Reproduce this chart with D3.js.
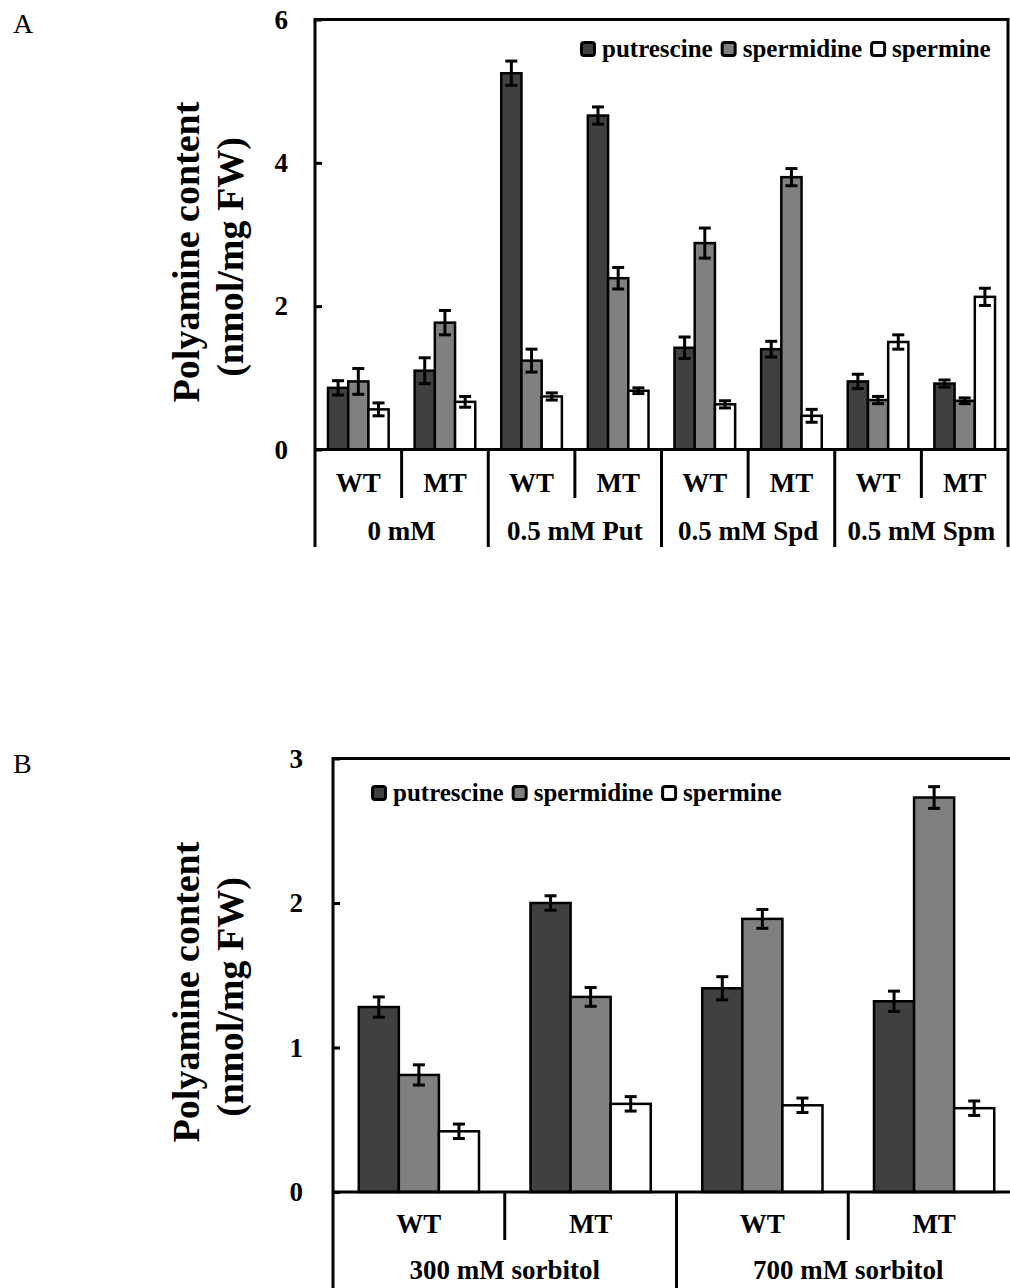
<!DOCTYPE html>
<html>
<head>
<meta charset="utf-8">
<script src="https://cdn.jsdelivr.net/npm/d3@7"></script>
<style>
  html, body { margin: 0; padding: 0; background: #fff; }
  svg { display: block; }
</style>
</head>
<body>
<script>
// Polyamine content (nmol/mg FW) of WT and MT lines, two experiments.
const series = ["putrescine", "spermidine", "spermine"];
const genotypes = ["WT", "MT"];

// Panel A: exogenous polyamine treatments
const groupsA = ["0 mM", "0.5 mM Put", "0.5 mM Spd", "0.5 mM Spm"];
const putA    = [0.86, 1.10, 5.25, 4.66, 1.42, 1.40, 0.95, 0.92];
const spdA    = [0.95, 1.77, 1.24, 2.39, 2.88, 3.80, 0.69, 0.68];
const spmA    = [0.56, 0.665, 0.74, 0.82, 0.63, 0.47, 1.50, 2.13];
const putErrA = [0.10, 0.18, 0.17, 0.12, 0.15, 0.11, 0.10, 0.05];
const spdErrA = [0.18, 0.17, 0.16, 0.15, 0.21, 0.12, 0.05, 0.04];
const spmErrA = [0.09, 0.075, 0.05, 0.04, 0.05, 0.09, 0.10, 0.12];
const ticksA  = [0, 2, 4, 6];

// Panel B: osmotic stress (sorbitol)
const groupsB = ["300 mM sorbitol", "700 mM sorbitol"];
const putB    = [1.28, 2.00, 1.41, 1.32];
const spdB    = [0.81, 1.35, 1.89, 2.73];
const spmB    = [0.42, 0.61, 0.60, 0.58];
const putErrB = [0.07, 0.05, 0.08, 0.07];
const spdErrB = [0.07, 0.065, 0.065, 0.075];
const spmErrB = [0.05, 0.05, 0.05, 0.05];
const ticksB  = [0, 1, 2, 3];

const FONT = "'Liberation Serif','Times New Roman',Times,serif";
const fills = d3.scaleOrdinal().domain(series).range(["#404040", "#808080", "#ffffff"]);

const svg = d3.select("body").append("svg")
  .attr("width", 1010).attr("height", 1288)
  .attr("font-family", FONT);
svg.append("rect").attr("width", 1010).attr("height", 1288).attr("fill", "#fff");

function panel(o) {
  const g = svg.append("g");
  const subcats = o.groups.flatMap(gr => genotypes.map(gt => gr + "|" + gt));
  const x = d3.scaleBand().domain(subcats).range([o.left, o.right])
    .paddingInner(0.3).paddingOuter(0.15);
  const xs = d3.scaleBand().domain(series).range([0, x.bandwidth()]);
  const y = d3.scaleLinear().domain([0, o.max]).range([o.zero, o.top]);
  const half = (x.step() - x.bandwidth()) / 2;
  const cellLeft = k => x(k) - half;

  const rows = subcats.map((k, i) => ({
    key: k,
    vals: series.map((s, j) => ({ s, v: o.values[j][i], e: o.errors[j][i] }))
  }));

  // panel letter
  g.append("text").attr("x", 13).attr("y", o.letterY)
    .attr("font-size", 28).text(o.letter);

  // axis title
  const title = g.append("text")
    .attr("transform", `translate(0,${o.titleY}) rotate(-90)`)
    .attr("text-anchor", "middle").attr("font-weight", "bold").attr("font-size", 38);
  title.append("tspan").attr("x", 0).attr("y", 199).text("Polyamine content");
  title.append("tspan").attr("x", -5).attr("y", 243).text("(nmol/mg FW)");

  // bars
  const cluster = g.selectAll("g.cluster").data(rows).join("g")
    .attr("class", "cluster")
    .attr("transform", d => `translate(${x(d.key)},0)`);
  cluster.selectAll("rect").data(d => d.vals).join("rect")
    .attr("x", d => xs(d.s)).attr("width", xs.bandwidth())
    .attr("y", d => y(d.v)).attr("height", d => y(0) - y(d.v))
    .attr("fill", d => fills(d.s))
    .attr("stroke", "#000").attr("stroke-width", 2.5);

  // error bars
  const eb = cluster.selectAll("g.err").data(d => d.vals).join("g").attr("class", "err")
    .attr("transform", d => `translate(${xs(d.s) + xs.bandwidth() / 2},0)`)
    .attr("stroke", "#000").attr("stroke-width", 3);
  eb.append("line").attr("y1", d => y(d.v + d.e)).attr("y2", d => y(d.v - d.e));
  eb.append("line").attr("x1", -6).attr("x2", 6)
    .attr("y1", d => y(d.v + d.e)).attr("y2", d => y(d.v + d.e));
  eb.append("line").attr("x1", -6).attr("x2", 6)
    .attr("y1", d => y(d.v - d.e)).attr("y2", d => y(d.v - d.e));

  // frame and baseline
  const frame = g.append("g").attr("stroke", "#000").attr("stroke-width", 3).attr("fill", "none");
  frame.append("line").attr("x1", o.left).attr("x2", o.right).attr("y1", o.top).attr("y2", o.top);
  frame.append("line").attr("x1", o.left).attr("x2", o.left).attr("y1", o.top - 1.5).attr("y2", o.groupBottom);
  frame.append("line").attr("x1", o.right).attr("x2", o.right).attr("y1", o.top - 1.5).attr("y2", o.groupBottom);
  frame.append("line").attr("x1", o.left).attr("x2", o.right).attr("y1", o.zero).attr("y2", o.zero);

  // category separators
  subcats.forEach((k, i) => {
    if (i === 0) return;
    const isGroup = i % 2 === 0;
    frame.append("line")
      .attr("x1", cellLeft(k)).attr("x2", cellLeft(k))
      .attr("y1", o.zero).attr("y2", isGroup ? o.groupBottom : o.subBottom);
  });

  // genotype labels
  g.selectAll("text.sub").data(subcats).join("text").attr("class", "sub")
    .attr("x", k => cellLeft(k) + x.step() / 2).attr("y", o.subY)
    .attr("text-anchor", "middle").attr("font-weight", "bold").attr("font-size", 27)
    .text(k => k.split("|")[1]);

  // treatment labels
  g.selectAll("text.grp").data(o.groups).join("text").attr("class", "grp")
    .attr("x", gr => cellLeft(gr + "|WT") + x.step())
    .attr("y", o.groupY)
    .attr("text-anchor", "middle").attr("font-weight", "bold").attr("font-size", 27)
    .text(gr => gr);

  // y axis
  const ax = g.append("g").attr("transform", `translate(${o.left},0)`)
    .call(d3.axisLeft(y).tickValues(o.ticks).tickFormat(d3.format("d"))
      .tickSizeInner(-7).tickSizeOuter(0).tickPadding(o.tickPad));
  ax.select(".domain").remove();
  ax.selectAll(".tick line").attr("stroke", "#000").attr("stroke-width", 3);
  ax.selectAll(".tick text").attr("font-family", FONT).attr("font-weight", "bold")
    .attr("font-size", 27).attr("fill", "#000");

  // legend
  const leg = g.append("g").attr("transform", `translate(${o.legX},${o.legY})`);
  let cx = 0;
  series.forEach(s => {
    leg.append("rect").attr("x", cx + 1.5).attr("y", -6.5).attr("width", 13).attr("height", 13)
      .attr("rx", 2.5).attr("fill", fills(s)).attr("stroke", "#000").attr("stroke-width", 3);
    const t = leg.append("text").attr("x", cx + 22).attr("y", 8)
      .attr("font-weight", "bold").attr("font-size", 25).text(s);
    cx += 22 + t.node().getComputedTextLength() + 8;
  });
}

panel({
  letter: "A", letterY: 33, titleY: 252,
  groups: groupsA, values: [putA, spdA, spmA], errors: [putErrA, spdErrA, spmErrA],
  ticks: ticksA, max: 6, left: 315, right: 1008, top: 19.5, zero: 449.5,
  subBottom: 498, groupBottom: 547, subY: 492, groupY: 540, tickPad: 27,
  legX: 580, legY: 49
});

panel({
  letter: "B", letterY: 773, titleY: 992,
  groups: groupsB, values: [putB, spdB, spmB], errors: [putErrB, spdErrB, spmErrB],
  ticks: ticksB, max: 3, left: 333, right: 1020, top: 758.5, zero: 1192,
  subBottom: 1240, groupBottom: 1290, subY: 1233, groupY: 1279, tickPad: 30,
  legX: 371, legY: 793
});
</script>
</body>
</html>
